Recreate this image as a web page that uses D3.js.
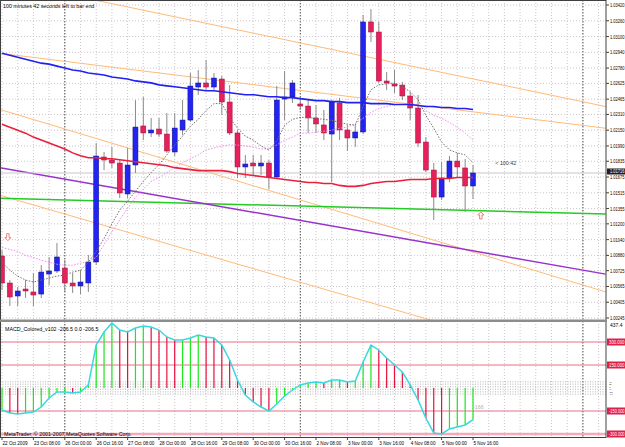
<!DOCTYPE html>
<html>
<head>
<meta charset="utf-8">
<script src="https://cdn.jsdelivr.net/npm/d3@7/dist/d3.min.js"></script>
<style>
    body { margin: 0; background: #ffffff; }
    svg { display: block; font-family: "Liberation Sans", Arial, sans-serif; }
</style>
</head>
<body>
<svg id="chart"></svg>
<script>
// H4 bars, 22 Oct 2009 16:00 .. 5 Nov 2009 16:00
const opens  = [1.00874,1.00600,1.00468,1.00539,1.00509,1.00488,1.00691,1.00722,1.00752,1.00600,
                1.00570,1.00600,1.00813,1.01878,1.01848,1.01817,1.01503,1.01797,1.02193,1.02122,
                1.02162,1.02111,1.01929,1.02152,1.02253,1.02588,1.02629,1.02588,1.02669,1.02436,
                1.02122,1.01777,1.01817,1.01787,1.01817,1.01675,1.02466,1.02487,1.02416,1.02395,
                1.02274,1.02203,1.02111,1.02426,1.02152,1.02071,1.02132,1.03248,1.03146,1.02649,
                1.02619,1.02608,1.02497,1.02375,1.02030,1.01746,1.01472,1.01665,1.01837,1.01767,
                1.01584];
const highs  = [1.00935,1.00630,1.00559,1.00630,1.00701,1.00782,1.00864,1.01006,1.00833,1.00701,
                1.00732,1.00884,1.02020,1.01929,1.01980,1.01848,1.01969,1.02456,1.02487,1.02274,
                1.02274,1.02324,1.02324,1.02456,1.02730,1.02761,1.02862,1.02730,1.02700,1.02608,
                1.02152,1.01898,1.01898,1.01898,1.01848,1.02598,1.02750,1.02659,1.02477,1.02456,
                1.02406,1.02355,1.02456,1.02477,1.02203,1.02203,1.03319,1.03379,1.03248,1.02740,
                1.02761,1.02639,1.02537,1.02507,1.02081,1.01817,1.01827,1.01888,1.01919,1.01858,
                1.01797];
const lows   = [1.00529,1.00367,1.00367,1.00448,1.00367,1.00448,1.00580,1.00701,1.00509,1.00499,
                1.00488,1.00509,1.00782,1.01746,1.01767,1.01462,1.01462,1.01716,1.02050,1.02081,
                1.02081,1.01919,1.01888,1.02101,1.02233,1.02507,1.02558,1.02558,1.02304,1.02101,
                1.01665,1.01665,1.01696,1.01696,1.01554,1.01655,1.02253,1.02426,1.02355,1.02122,
                1.02122,1.02050,1.01624,1.02050,1.01939,1.01980,1.02111,1.03045,1.02629,1.02558,
                1.02527,1.02456,1.02253,1.01980,1.01726,1.01239,1.01442,1.01624,1.01665,1.01320,
                1.01452];
const closes = [1.00600,1.00458,1.00519,1.00519,1.00478,1.00711,1.00722,1.00864,1.00600,1.00570,
                1.00610,1.00813,1.01888,1.01848,1.01817,1.01513,1.01797,1.02182,1.02122,1.02152,
                1.02111,1.01939,1.02172,1.02253,1.02598,1.02629,1.02588,1.02679,1.02436,1.02122,
                1.01777,1.01807,1.01787,1.01817,1.01675,1.02456,1.02487,1.02629,1.02395,1.02274,
                1.02213,1.02122,1.02436,1.02152,1.02071,1.02132,1.03248,1.03146,1.02649,1.02629,
                1.02598,1.02497,1.02375,1.02020,1.01746,1.01472,1.01665,1.01837,1.01777,1.01584,
                1.01716];

// moving averages drawn on the chart
const maBlue = [1.0293,1.0291,1.0289,1.0287,1.0285,1.0283,1.0282,1.0280,1.0278,1.0276,
                1.0275,1.0273,1.0272,1.0271,1.0269,1.0268,1.0267,1.0265,1.0264,1.0263,
                1.0261,1.0260,1.0259,1.0258,1.0257,1.0256,1.0255,1.0255,1.0254,1.0253,
                1.0252,1.0251,1.0251,1.0250,1.0249,1.0249,1.0248,1.0248,1.0247,1.0246,
                1.0245,1.0245,1.0244,1.0244,1.0243,1.0243,1.0243,1.0242,1.0242,1.0242,
                1.0241,1.0241,1.0241,1.0240,1.0239,1.0239,1.0238,1.0238,1.0237,1.0237,
                1.0236];
const maRed  = [1.0221,1.0218,1.0215,1.0212,1.0208,1.0205,1.0202,1.0199,1.0196,1.0192,
                1.0189,1.0187,1.0187,1.0186,1.0186,1.0185,1.0184,1.0183,1.0182,1.0181,
                1.0180,1.0179,1.0177,1.0176,1.0175,1.0174,1.0174,1.0174,1.0174,1.0173,
                1.0171,1.0170,1.0169,1.0168,1.0167,1.0166,1.0165,1.0164,1.0163,1.0162,
                1.0162,1.0161,1.0161,1.0159,1.0158,1.0158,1.0159,1.0161,1.0162,1.0163,
                1.0163,1.0164,1.0165,1.0165,1.0165,1.0166,1.0166,1.0166,1.0167,1.0167,
                1.0167];
const maGray = [1.0081,1.0073,1.0067,1.0063,1.0061,1.0063,1.0065,1.0067,1.0068,1.0071,
                1.0073,1.0081,1.0092,1.0105,1.0120,1.0134,1.0143,1.0153,1.0163,1.0172,
                1.0180,1.0190,1.0200,1.0209,1.0219,1.0226,1.0235,1.0242,1.0242,1.0228,
                1.0217,1.0209,1.0205,1.0199,1.0195,1.0204,1.0220,1.0226,1.0228,1.0228,
                1.0227,1.0226,1.0225,1.0223,1.0221,1.0220,1.0239,1.0256,1.0261,1.0262,
                1.0263,1.0259,1.0254,1.0246,1.0230,1.0217,1.0203,1.0195,1.0192,1.0190,
                1.0182];
const maViolet = [1.0096,1.0094,1.0092,1.0088,1.0086,1.0083,1.0081,1.0079,1.0078,1.0078,
                  1.0080,1.0082,1.0086,1.0099,1.0112,1.0124,1.0136,1.0147,1.0155,1.0163,
                  1.0167,1.0172,1.0177,1.0182,1.0186,1.0190,1.0195,1.0197,1.0199,1.0200,
                  1.0200,1.0199,1.0198,1.0196,1.0196,1.0200,1.0205,1.0208,1.0212,1.0212,
                  1.0213,1.0214,1.0215,1.0217,1.0218,1.0222,1.0227,1.0233,1.0237,1.0239,
                  1.0241,1.0241,1.0242,1.0241,1.0235,1.0230,1.0227,1.0223,1.0218,1.0212,
                  1.0205];

// trend lines: price at the left edge and at the right axis (bar positions in trendBars)
const trendBars = [-0.25, 76.9];
const trendGreen = [1.0146, 1.0130];
const trendPurple = [1.0177, 1.0069];
const trendOrangeA = [1.0367, 1.0239];
const trendOrangeB = [1.0293, 1.0217];
const trendOrangeC = [1.0236, 1.0051];
const trendOrangeD = [1.0149, 0.9971];

// MACD_Colored values
const macd = [-143,-163,-170,-163,-157,-124,-65,-26,-26,-33,
              -26,20,280,365,424,378,365,391,404,398,
              378,333,313,313,326,346,333,326,280,183,
              52,-46,-91,-124,-150,-104,-52,-13,20,33,
              39,33,52,52,39,46,170,280,248,196,
              150,104,20,-78,-196,-294,-300,-267,-254,-241,
              -206.5];
const macdLevels = [300, 150, -150, -300];
const macdLevelLabels = ["300.000", "150.000", "-150.000", "-300.000"];
const macdMinorLevels = [40, 25, 8, -8, -25, -40];

// axes
const priceTicks = [1.03420,1.03260,1.03100,1.02940,1.02780,1.02625,1.02465,1.02310,1.02150,1.01990,
                    1.01835,1.01675,1.01515,1.01355,1.01200,1.01040,1.00880,1.00725,1.00565,1.00405,1.00245];
const timeLabels = ["22 Oct 2009","23 Oct 08:00","26 Oct 00:00","26 Oct 16:00","27 Oct 08:00","28 Oct 00:00",
                    "28 Oct 16:00","29 Oct 08:00","30 Oct 00:00","30 Oct 16:00","2 Nov 08:00","3 Nov 00:00",
                    "3 Nov 16:00","4 Nov 08:00","5 Nov 00:00","5 Nov 16:00"];
const timeLabelBars = [0,4,8,12,16,20,24,28,32,36,40,44,48,52,56,60];
const separatorBars = [8, 38, 74];
const bidPrice = 1.01716;
const arrowBars = [0.75, 61];
const arrowPrices = [1.0107, 1.0128];
const arrowDirs = ["down", "up"];

class MtChart {

    constructor(config) {
        this.config = config;
        this.init();
    }

    init() {
        let self = this;

        self.svg = d3.select(self.config.parent)
            .attr('width', self.config.width)
            .attr('height', self.config.height);

        self.svg.append("rect")
            .attr("width", self.config.width)
            .attr("height", self.config.height)
            .attr("fill", "#ffffff");

        // bar index -> x
        self.xScale = d3.scaleLinear().domain([0, 60]).range([2, 473]);
        // main window price scale
        self.yScale = d3.scaleLinear().domain([1.00245, 1.03420]).range([318, 5]);
        // macd window
        self.mScale = d3.scaleLinear().domain([-300, 300]).range([434, 342]);

        let defs = self.svg.append("defs");
        defs.append("clipPath").attr("id", "clipMain")
            .append("rect").attr("x", 0).attr("y", 0).attr("width", self.config.axisX).attr("height", 320);
        defs.append("clipPath").attr("id", "clipMacd")
            .append("rect").attr("x", 0).attr("y", 322).attr("width", self.config.axisX).attr("height", 115);
    }

    render() {
        let self = this;
        let ax = self.config.axisX;
        // room left for the right-hand labels (the window is cut there)
        let labelRoom = self.config.width - ax - 4.5;

        let main = self.svg.append("g").attr("clip-path", "url(#clipMain)");
        let sub = self.svg.append("g").attr("clip-path", "url(#clipMacd)");

        // grid
        let gridBars = d3.range(0, 77, 2);
        [main, sub].forEach(g => {
            g.selectAll(".vgrid").data(gridBars).join("line")
                .attr("class", "vgrid")
                .attr("x1", d => self.xScale(d)).attr("x2", d => self.xScale(d))
                .attr("y1", 0).attr("y2", 440)
                .attr("stroke", "#cfc4cc").attr("stroke-dasharray", "1,2");
            g.selectAll(".sep").data(separatorBars).join("line")
                .attr("class", "sep")
                .attr("x1", d => self.xScale(d)).attr("x2", d => self.xScale(d))
                .attr("y1", 0).attr("y2", 440)
                .attr("stroke", "#555").attr("stroke-dasharray", "1.5,1.5");
        });
        main.selectAll(".hgrid").data(priceTicks).join("line")
            .attr("class", "hgrid")
            .attr("x1", 0).attr("x2", ax)
            .attr("y1", d => self.yScale(d)).attr("y2", d => self.yScale(d))
            .attr("stroke", "#cfc4cc").attr("stroke-dasharray", "1,2");

        // trend lines
        let trends = [
            {v: trendOrangeA, c: "#ffbb77", w: 1},
            {v: trendOrangeB, c: "#ffbb77", w: 1},
            {v: trendOrangeC, c: "#ffbb77", w: 1},
            {v: trendOrangeD, c: "#ffbb77", w: 1},
            {v: trendGreen, c: "#22cc22", w: 1.5},
            {v: trendPurple, c: "#9932cc", w: 1.5}
        ];
        main.selectAll(".trend").data(trends).join("line")
            .attr("class", "trend")
            .attr("x1", self.xScale(trendBars[0])).attr("x2", self.xScale(trendBars[1]))
            .attr("y1", d => self.yScale(d.v[0])).attr("y2", d => self.yScale(d.v[1]))
            .attr("stroke", d => d.c).attr("stroke-width", d => d.w);

        // bid line
        main.append("line")
            .attr("x1", 0).attr("x2", ax)
            .attr("y1", self.yScale(bidPrice)).attr("y2", self.yScale(bidPrice))
            .attr("stroke", "#c8c8c8");

        // candles
        let bars = opens.map((o, i) => ({i: i, o: o, h: highs[i], l: lows[i], c: closes[i]}));
        main.selectAll(".wick").data(bars).join("line")
            .attr("class", "wick")
            .attr("x1", d => self.xScale(d.i)).attr("x2", d => self.xScale(d.i))
            .attr("y1", d => self.yScale(d.h)).attr("y2", d => self.yScale(d.l))
            .attr("stroke", "#8a8a8a");
        main.selectAll(".body").data(bars).join("rect")
            .attr("class", "body")
            .attr("x", d => self.xScale(d.i) - 2.5)
            .attr("width", 5)
            .attr("y", d => self.yScale(Math.max(d.o, d.c)))
            .attr("height", d => Math.max(1.5, Math.abs(self.yScale(d.o) - self.yScale(d.c))))
            .attr("fill", d => d.c >= d.o ? "#2424f0" : "#e6205a")
            .attr("stroke", d => d.c >= d.o ? "#10108c" : "#a01040")
            .attr("stroke-width", 0.5);

        // moving averages
        let line = vals => d3.line()
            .x((d, i) => self.xScale(i))
            .y(d => self.yScale(d))(vals);
        main.append("path").attr("d", line(maViolet))
            .attr("fill", "none").attr("stroke", "#f08cf0").attr("stroke-dasharray", "1.5,1.5");
        main.append("path").attr("d", line(maGray))
            .attr("fill", "none").attr("stroke", "#707070").attr("stroke-dasharray", "1.5,1.5");
        main.append("path").attr("d", line(maRed))
            .attr("fill", "none").attr("stroke", "#e8203c").attr("stroke-width", 1.6);
        main.append("path").attr("d", line(maBlue))
            .attr("fill", "none").attr("stroke", "#2020f0").attr("stroke-width", 1.6);

        // arrows
        arrowBars.forEach((b, k) => {
            let x = self.xScale(b), y = self.yScale(arrowPrices[k]);
            let s = arrowDirs[k] === "up" ? 1 : -1;
            let p = [[0, -4], [3, -1], [1.2, -1], [1.2, 3], [-1.2, 3], [-1.2, -1], [-3, -1]]
                .map(q => [x + q[0], y + q[1] * s]);
            main.append("path").attr("d", "M" + p.join("L") + "Z")
                .attr("fill", "#ffffff").attr("stroke", "#f06050").attr("stroke-width", 0.8);
        });

        // texts main
        self.svg.append("text").attr("x", 3).attr("y", 8)
            .attr("font-size", "5.3px").attr("fill", "#000").text("100 minutes 42 seconds left to bar end");
        main.append("text").attr("x", self.xScale(60.3) + 20).attr("y", self.yScale(bidPrice) - 8)
            .attr("font-size", "5.3px").attr("fill", "#333").text("< 100:42");

        // MACD levels
        sub.selectAll(".mlev").data(macdLevels).join("line")
            .attr("class", "mlev")
            .attr("x1", 0).attr("x2", ax)
            .attr("y1", d => self.mScale(d)).attr("y2", d => self.mScale(d))
            .attr("stroke", d => d === -300 ? "#f5aabb" : "#ec6f88")
            .attr("stroke-width", d => d === -300 ? 2.5 : 1);
        sub.selectAll(".mminor").data(macdMinorLevels).join("line")
            .attr("class", "mminor")
            .attr("x1", 0).attr("x2", ax)
            .attr("y1", d => self.mScale(d)).attr("y2", d => self.mScale(d))
            .attr("stroke", "#b8b8b8").attr("stroke-dasharray", "1,1.5");

        // histogram
        let hist = macd.map((v, i) => ({i: i, v: v, up: i === 0 ? v < 0 : v >= macd[i - 1]}));
        sub.selectAll(".hist").data(hist).join("line")
            .attr("class", "hist")
            .attr("x1", d => self.xScale(d.i)).attr("x2", d => self.xScale(d.i))
            .attr("y1", self.mScale(0)).attr("y2", d => self.mScale(d.v))
            .attr("stroke", d => d.up ? "#1ee61e" : "#e8103c").attr("stroke-width", 1.2);
        sub.append("path").attr("d", d3.line()
                .x((d, i) => self.xScale(i))
                .y(d => self.mScale(d))(macd))
            .attr("fill", "none").attr("stroke", "#38d8e0").attr("stroke-width", 1.5);

        sub.append("text").attr("x", 5).attr("y", 331)
            .attr("font-size", "5.3px").attr("fill", "#000").text("MACD_Colored_v102 -206.5 0.0 -206.5");
        sub.append("text").attr("x", self.xScale(60)).attr("y", 409)
            .attr("font-size", "5.3px").attr("fill", "#b0b0b0").text("-166");
        self.svg.append("text").attr("x", 4).attr("y", 436)
            .attr("font-size", "5.3px").attr("fill", "#000").text("MetaTrader, © 2001-2007 MetaQuotes Software Corp.");

        // frame and window separator
        self.svg.append("rect").attr("x", 0.5).attr("y", 0.5).attr("width", ax - 0.5).attr("height", 437)
            .attr("fill", "none").attr("stroke", "#404040");
        self.svg.append("rect").attr("x", 0).attr("y", 319.5).attr("width", ax + 1).attr("height", 2.5)
            .attr("fill", "#8c8c8c");

        // price axis
        let pa = self.svg.append("g");
        pa.selectAll("line").data(priceTicks).join("line")
            .attr("x1", ax).attr("x2", ax + 3)
            .attr("y1", d => self.yScale(d)).attr("y2", d => self.yScale(d))
            .attr("stroke", "#404040");
        pa.selectAll("text").data(priceTicks).join("text")
            .attr("x", ax + 4).attr("y", d => self.yScale(d) + 2)
            .attr("font-size", "5px").attr("fill", "#000")
            .attr("textLength", labelRoom).attr("lengthAdjust", "spacingAndGlyphs")
            .text(d => d.toFixed(5));

        // bid label
        let by = self.yScale(bidPrice) - 1.5;
        pa.append("rect").attr("x", ax + 1).attr("y", by - 3)
            .attr("width", 20).attr("height", 6).attr("fill", "#2a1a1a");
        pa.append("text").attr("x", ax + 4).attr("y", by + 1.7)
            .attr("font-size", "4.6px").attr("fill", "#ffffff")
            .attr("textLength", labelRoom).attr("lengthAdjust", "spacingAndGlyphs")
            .text(bidPrice.toFixed(5));

        // macd axis
        pa.append("text").attr("x", ax + 4).attr("y", 327)
            .attr("font-size", "5px").attr("fill", "#000").text("437.4");
        macdLevels.forEach((lv, k) => {
            pa.append("rect").attr("x", ax + 1).attr("y", self.mScale(lv) - 3.5)
                .attr("width", 20).attr("height", 7).attr("fill", "#e0204c");
            pa.append("text").attr("x", ax + 3).attr("y", self.mScale(lv) + 2)
                .attr("font-size", "5px").attr("fill", "#ffffff")
                .attr("textLength", labelRoom + 1).attr("lengthAdjust", "spacingAndGlyphs")
                .text(macdLevelLabels[k]);
        });
        macdMinorLevels.forEach(lv => {
            pa.append("text").attr("x", ax + 3).attr("y", self.mScale(lv) + 1)
                .attr("font-size", "2.4px").attr("fill", "#333").text(lv);
        });

        // time axis
        let ta = self.svg.append("g");
        ta.selectAll("line").data(timeLabelBars).join("line")
            .attr("x1", d => self.xScale(d)).attr("x2", d => self.xScale(d))
            .attr("y1", 437.5).attr("y2", 440)
            .attr("stroke", "#404040");
        ta.selectAll("text").data(timeLabels).join("text")
            .attr("x", (d, i) => self.xScale(timeLabelBars[i]) + 0.5).attr("y", 445)
            .attr("font-size", "4.6px").attr("fill", "#000")
            .text(d => d);
    }
}

let chart = new MtChart({parent: "#chart", width: 625, height: 447, axisX: 606});
chart.render();
</script>
</body>
</html>
